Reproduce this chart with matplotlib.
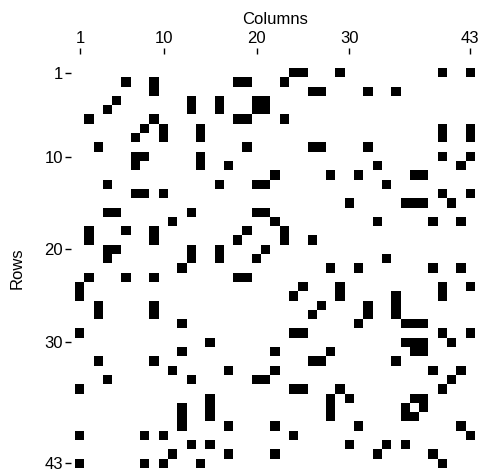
import numpy as np
import matplotlib
matplotlib.use('Agg')
from matplotlib import pyplot as plt

plt.rcParams['font.family'] = ['Liberation Sans', 'DejaVu Sans']

n = 43
# filled cells, listed row by row (1-based row, column)
rows = [1]*5 + [2]*5 + [3]*5 + [4]*5 + [5]*5 + [6]*5 + [7]*5 + [8]*5 + [9]*5 + [10]*5 \
     + [11]*5 + [12]*5 + [13]*5 + [14]*5 + [15]*5 + [16]*5 + [17]*5 + [18]*5 + [19]*5 + [20]*5 \
     + [21]*5 + [22]*5 + [23]*5 + [24]*5 + [25]*5 + [26]*5 + [27]*5 + [28]*5 + [29]*5 + [30]*5 \
     + [31]*5 + [32]*5 + [33]*5 + [34]*5 + [35]*5 + [36]*5 + [37]*5 + [38]*5 + [39]*5 + [40]*5 \
     + [41]*5 + [42]*5 + [43]*5
cols = [24, 25, 29, 40, 43,
        6, 9, 18, 19, 23,
        9, 26, 27, 32, 35,
        5, 13, 16, 20, 21,
        4, 13, 16, 20, 21,
        2, 9, 18, 19, 23,
        8, 10, 14, 40, 43,
        7, 10, 14, 40, 43,
        3, 19, 26, 27, 32,
        7, 8, 14, 40, 43,
        7, 14, 17, 33, 42,
        22, 28, 31, 37, 38,
        4, 16, 20, 21, 34,
        7, 8, 10, 40, 43,
        30, 36, 37, 38, 41,
        4, 5, 13, 20, 21,
        11, 22, 33, 39, 42,
        2, 6, 9, 19, 23,
        2, 9, 18, 23, 26,
        4, 5, 13, 16, 21,
        4, 13, 16, 20, 34,
        12, 28, 31, 39, 42,
        2, 6, 9, 18, 19,
        1, 25, 29, 40, 43,
        1, 24, 29, 35, 40,
        3, 9, 27, 32, 35,
        3, 9, 26, 32, 35,
        12, 31, 36, 37, 38,
        1, 24, 25, 40, 43,
        15, 36, 37, 38, 41,
        12, 22, 28, 37, 38,
        3, 9, 26, 27, 35,
        11, 17, 22, 39, 42,
        4, 13, 20, 21, 41,
        1, 24, 25, 29, 40,
        15, 28, 30, 37, 38,
        12, 15, 28, 36, 38,
        12, 15, 28, 36, 37,
        12, 17, 22, 31, 42,
        1, 8, 10, 24, 43,
        13, 15, 30, 34, 36,
        11, 17, 22, 33, 39,
        1, 8, 10, 14, 40]
tick_vals = [1, 10, 20, 30, 43]

mat = np.zeros((n, n))
for r, c in zip(rows, cols):
    mat[r-1, c-1] = 1

fig = plt.figure(figsize=(4.81, 4.76), dpi=100)
ax = fig.add_axes([75.35/481, (476-467.8)/476, 399.5/481, 399.5/476])
ax.imshow(mat, cmap='gray_r', interpolation='nearest', aspect='auto',
          extent=(0.5, n+0.5, n+0.5, 0.5), vmin=0, vmax=1)
ax.set_xlim(0.5, n+0.5)
ax.set_ylim(n+0.5, 0.5)

for s in ax.spines.values():
    s.set_visible(False)
ax.spines['top'].set_position(('outward', 10))
ax.spines['left'].set_position(('outward', 3))

ax.xaxis.tick_top()
ax.xaxis.set_label_position('top')
ax.set_xticks(tick_vals)
ax.set_yticks(tick_vals)
ax.tick_params(axis='both', direction='out', length=4, width=1, labelsize=12, pad=2)
ax.set_xlabel('Columns', fontsize=12, labelpad=5)
ax.set_ylabel('Rows', fontsize=12, labelpad=14)

fig.savefig('out.png', dpi=100)
